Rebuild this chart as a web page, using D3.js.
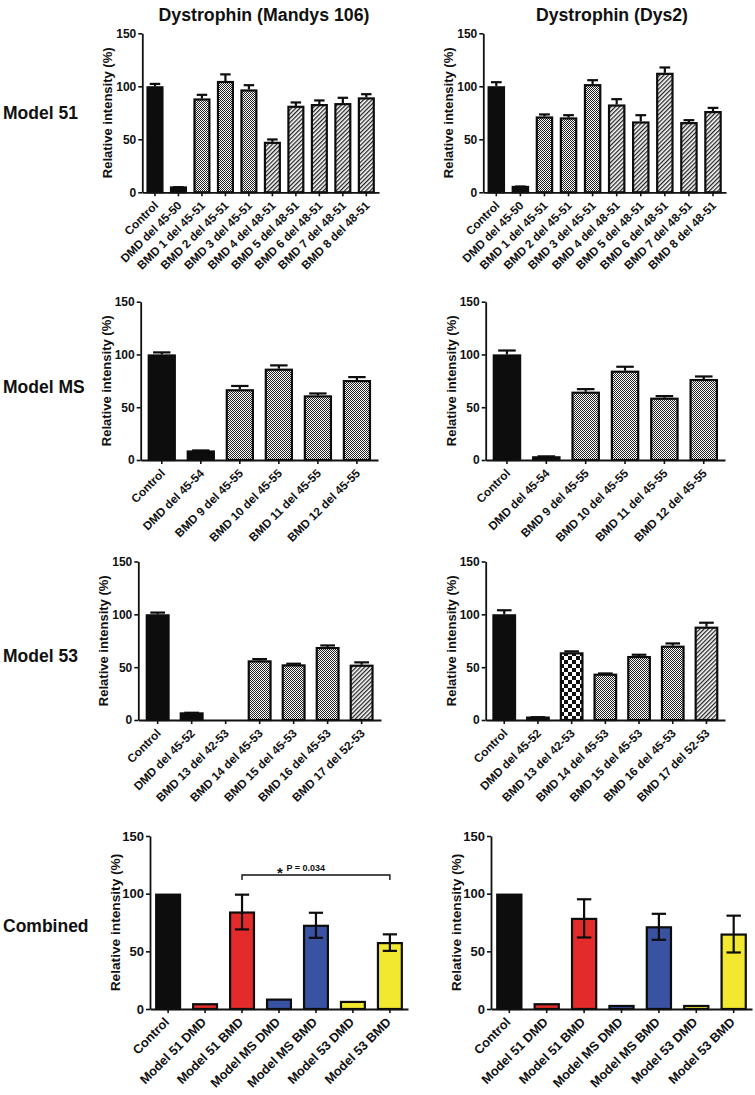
<!DOCTYPE html>
<html><head><meta charset="utf-8">
<script src="https://cdn.jsdelivr.net/npm/d3@7"></script>
<style>
body{margin:0;background:#fff}
svg{display:block}
text{font-family:"Liberation Sans",Arial,Helvetica,sans-serif;font-weight:bold;fill:#111}
</style>
</head><body><svg id="c" width="755" height="1095"></svg>
<script>
// ---------------- data ----------------
const columnTitles = ["Dystrophin (Mandys 106)", "Dystrophin (Dys2)"];
const rowLabels = ["Model 51", "Model MS", "Model 53", "Combined"];
const yTicks = [0, 50, 100, 150];
const yLabel = "Relative intensity (%)";

const cats51 = ["Control","DMD del 45-50","BMD 1 del 45-51","BMD 2 del 45-51","BMD 3 del 45-51","BMD 4 del 48-51","BMD 5 del 48-51","BMD 6 del 48-51","BMD 7 del 48-51","BMD 8 del 48-51"];
const mandys51 = [100, 5.5, 88.5, 105, 97, 47.6, 81.6, 83.2, 84.1, 89.5];
const mandys51Err = [3.2, 0.3, 4.4, 7.2, 5, 3.2, 4.1, 4.4, 6, 4];
const dys51 = [100, 6, 71.5, 70.6, 102, 82.8, 66.8, 112.7, 66.2, 76.6];
const dys51Err = [4.8, 0.4, 2.9, 3.1, 4.7, 6, 6.9, 6, 2.8, 4];
const fills51 = ["solid","solid","dots","dots","dots","stripes","stripes","stripes","stripes","stripes"];

const catsMS = ["Control","DMD del 45-54","BMD 9 del 45-55","BMD 10 del 45-55","BMD 11 del 45-55","BMD 12 del 45-55"];
const mandysMS = [100, 9, 67, 86.5, 61.2, 75.7];
const mandysMSErr = [2.9, 1, 4.1, 4.1, 2.8, 3.8];
const dysMS = [100, 3.5, 64.7, 84.6, 59, 76.7];
const dysMSErr = [4.7, 0.9, 3.4, 4.7, 2.5, 3.4];
const fillsMS = ["solid","solid","dots","dots","dots","dots"];

const cats53 = ["Control","DMD del 45-52","BMD 13 del 42-53","BMD 14 del 45-53","BMD 15 del 45-53","BMD 16 del 45-53","BMD 17 del 52-53"];
const mandys53 = [100, 7.2, null, 56.4, 52.6, 69, 52.3];
const mandys53Err = [2.6, 0.6, null, 2.2, 1.6, 2.5, 3.2];
const dys53 = [100, 3.2, 64, 43.8, 60.5, 70.3, 88.3];
const dys53Err = [4.8, 0.4, 1.9, 1.2, 2.2, 3.1, 4.7];
const fills53 = ["solid","solid","checker","dots","dots","dots","stripes"];

const catsComb = ["Control","Model 51 DMD","Model 51 BMD","Model MS DMD","Model MS BMD","Model 53 DMD","Model 53 BMD"];
const mandysComb = [100, 5, 84.5, 9, 73, 7, 58];
const mandysCombErr = [0, 0, 15.5, 0, 11.3, 0, 7.6];
const dysComb = [100, 5, 79, 3.5, 71.7, 3.5, 65.4];
const dysCombErr = [0, 0, 17, 0, 11.7, 0, 16.4];
const fillsComb = ["black","red","red","blue","blue","yellow","yellow"];
const sigPair = ["Model 51 BMD", "Model 53 BMD"];
const sigText = "P = 0.034";

// ---------------- styling / layout ----------------
const colors = {black:"#0d0d0d", red:"#e32b2b", blue:"#3953a2", yellow:"#f1e82f", solid:"#0d0d0d"};

const panels = [
  {cats:cats51, vals:mandys51, errs:mandys51Err, fills:fills51, x0:142.3, x1:379, yTop:33.3, yBot:192.3, pi:0.28, po:0.18},
  {cats:cats51, vals:dys51, errs:dys51Err, fills:fills51, x0:483.3, x1:726, yTop:33.3, yBot:192.3, pi:0.28, po:0.18},
  {cats:catsMS, vals:mandysMS, errs:mandysMSErr, fills:fillsMS, x0:140.7, x1:378, yTop:301.7, yBot:460, pi:0.28, po:0.18},
  {cats:catsMS, vals:dysMS, errs:dysMSErr, fills:fillsMS, x0:485.7, x1:725, yTop:301.7, yBot:460, pi:0.28, po:0.18},
  {cats:cats53, vals:mandys53, errs:mandys53Err, fills:fills53, x0:138.3, x1:381, yTop:561.5, yBot:720, pi:0.3, po:0.22},
  {cats:cats53, vals:dys53, errs:dys53Err, fills:fills53, x0:485.7, x1:725, yTop:561.5, yBot:720, pi:0.3, po:0.2},
  {cats:catsComb, vals:mandysComb, errs:mandysCombErr, fills:fillsComb, x0:150, x1:408, yTop:836, yBot:1009, pi:0.3, po:0.14, combined:true, sig:true},
  {cats:catsComb, vals:dysComb, errs:dysCombErr, fills:fillsComb, x0:491, x1:752, yTop:836, yBot:1009, pi:0.3, po:0.14, combined:true}
];

const svg = d3.select("#c");
const defs = svg.append("defs");
// fine crosshatch
const pd = defs.append("pattern").attr("id","dots").attr("width",2).attr("height",2).attr("patternUnits","userSpaceOnUse");
pd.append("rect").attr("width",2).attr("height",2).attr("fill","#fff");
pd.append("rect").attr("width",1).attr("height",1).attr("fill","#222");
pd.append("rect").attr("x",1).attr("y",1).attr("width",1).attr("height",1).attr("fill","#222");
// coarse checker
const pc = defs.append("pattern").attr("id","checker").attr("width",8).attr("height",8).attr("patternUnits","userSpaceOnUse");
pc.append("rect").attr("width",8).attr("height",8).attr("fill","#fff");
pc.append("rect").attr("width",4).attr("height",4).attr("fill","#111");
pc.append("rect").attr("x",4).attr("y",4).attr("width",4).attr("height",4).attr("fill","#111");
// diagonal stripes
const ps = defs.append("pattern").attr("id","stripes").attr("width",3).attr("height",3).attr("patternUnits","userSpaceOnUse").attr("patternTransform","rotate(45)");
ps.append("rect").attr("width",3).attr("height",3).attr("fill","#fff");
ps.append("rect").attr("width",1.3).attr("height",3).attr("fill","#222");

function fillFor(k){ return (k==="dots"||k==="checker"||k==="stripes") ? `url(#${k})` : colors[k]; }

// titles
const titleX = [264, 612], titleW = [211, 152];
columnTitles.forEach((t,i)=>{
  svg.append("text").attr("x",titleX[i]).attr("y",21).attr("text-anchor","middle")
    .attr("font-size",18).attr("textLength",titleW[i]).attr("lengthAdjust","spacingAndGlyphs").text(t);
});
// row labels
const rowY = [119, 393, 662, 932];
rowLabels.forEach((t,i)=>{
  svg.append("text").attr("x",3).attr("y",rowY[i]).attr("font-size",17.5).text(t);
});

panels.forEach(p=>{
  const g = svg.append("g");
  const y = d3.scaleLinear().domain([0,150]).range([p.yBot, p.yTop]);
  const x = d3.scaleBand().domain(p.cats).range([p.x0, p.x1]).paddingInner(p.pi).paddingOuter(p.po);
  const tickFs = p.combined ? 13 : 12;
  const labFs = p.combined ? 12.8 : 11.8;
  const yLabFs = p.combined ? 13.7 : 13;

  // bars
  p.cats.forEach((c,i)=>{
    const v = p.vals[i];
    if (v == null) return;
    g.append("rect").attr("x", x(c)+1).attr("y", y(v)+1)
      .attr("width", x.bandwidth()-2).attr("height", Math.max(0, y(0)-y(v)-1))
      .attr("fill", fillFor(p.fills[i])).attr("stroke","#0d0d0d").attr("stroke-width",2.2);
  });
  // error bars
  p.cats.forEach((c,i)=>{
    const v = p.vals[i], e = p.errs[i];
    if (v == null || !e) return;
    const cx = x(c) + x.bandwidth()/2;
    const cw = x.bandwidth() * (p.combined ? 0.55 : 0.62);
    const lo = p.combined ? v - e : v;
    g.append("line").attr("x1",cx).attr("x2",cx).attr("y1",y(lo)).attr("y2",y(v+e)+1)
      .attr("stroke","#0d0d0d").attr("stroke-width",2.2);
    g.append("line").attr("x1",cx-cw/2).attr("x2",cx+cw/2).attr("y1",y(v+e)+1).attr("y2",y(v+e)+1)
      .attr("stroke","#0d0d0d").attr("stroke-width",2.2);
    if (p.combined) {
      g.append("line").attr("x1",cx-cw/2).attr("x2",cx+cw/2).attr("y1",y(lo)).attr("y2",y(lo))
        .attr("stroke","#0d0d0d").attr("stroke-width",2.2);
    }
  });

  // y axis
  const ya = g.append("g").attr("transform",`translate(${p.x0},0)`)
    .call(d3.axisLeft(y).tickValues(yTicks).tickSize(4).tickSizeOuter(0).tickPadding(2));
  ya.select(".domain").attr("stroke","#111").attr("stroke-width",1.8);
  ya.selectAll(".tick line").attr("stroke","#111").attr("stroke-width",1.6);
  ya.selectAll(".tick text").attr("font-size",tickFs).attr("font-family",null).attr("fill","#111");

  // x axis
  const xa = g.append("g").attr("transform",`translate(0,${p.yBot})`)
    .call(d3.axisBottom(x).tickSize(4).tickSizeOuter(0));
  xa.select(".domain").attr("stroke","#111").attr("stroke-width",1.8);
  xa.selectAll(".tick line").attr("stroke","#111").attr("stroke-width",1.6);
  const dx = p.combined ? 2 : 4, dy = p.combined ? 14 : 14;
  xa.selectAll(".tick text").attr("font-size",labFs).attr("font-family",null).attr("fill","#111")
    .attr("text-anchor","end").attr("dy",null).attr("y",0)
    .attr("transform",`translate(${dx},${dy}) rotate(-45)`);

  // y label
  g.append("text").attr("transform",`translate(${p.x0-30},${(p.yTop+p.yBot)/2}) rotate(-90)`)
    .attr("text-anchor","middle").attr("font-size",yLabFs).text(yLabel);

  // significance bracket
  if (p.sig) {
    const xa1 = x(sigPair[0]) + x.bandwidth()/2, xa2 = x(sigPair[1]) + x.bandwidth()/2;
    const by = 875;
    g.append("path").attr("d",`M${xa1},${by+5}V${by}H${xa2}V${by+5}`)
      .attr("fill","none").attr("stroke","#111").attr("stroke-width",1.4);
    g.append("text").attr("x",277).attr("y",878).attr("font-size",15).text("*");
    g.append("text").attr("x",286.5).attr("y",871).attr("font-size",9).text(sigText);
  }
});
</script>
</body></html>
